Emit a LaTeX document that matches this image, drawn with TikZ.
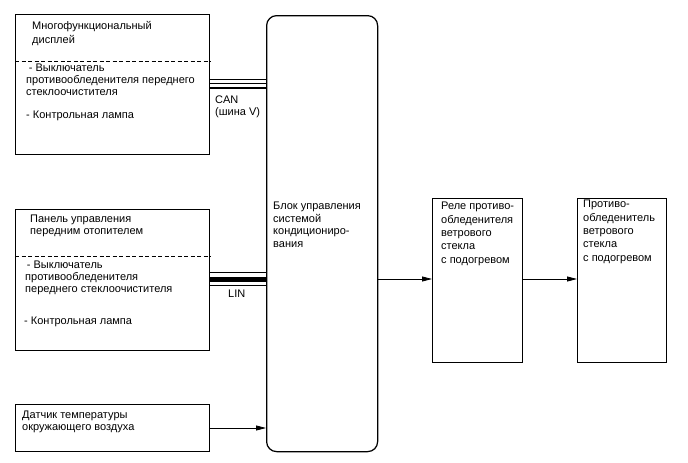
\documentclass[tikz,border=0pt]{standalone}
\usepackage{fontspec}
\setmainfont{Liberation Sans}
\usetikzlibrary{arrows.meta}
\begin{document}
\begin{tikzpicture}[x=1pt,y=-1pt,
  box/.style={draw,line width=1.25pt,anchor=north west,inner sep=0pt,minimum width=#1},
  lbl/.style={anchor=base west,align=left,inner sep=0pt,font=\fontsize{11}{12}\selectfont},
  lbl13/.style={lbl,font=\fontsize{11}{13.3}\selectfont},
  sep/.style={line width=0.7pt,dash pattern=on 4pt off 2.5pt},
  arr/.style={line width=0.8pt,-{Triangle[length=10pt,width=5pt]}}]
\useasboundingbox (0,0) rectangle (688,463);
% boxes
\node[box=194pt,minimum height=140pt] (disp) at (15,14) {};
\node[box=194pt,minimum height=141pt] (panel) at (15,209) {};
\node[box=194pt,minimum height=47pt] (sens) at (15,404) {};
\node[box=111pt,minimum height=436pt,rounded corners=10pt] (main) at (266,15) {};
\node[box=90pt,minimum height=164pt] (relay) at (432,198) {};
\node[box=89pt,minimum height=164pt] (heat) at (577,198) {};
% dashed separators
\draw[sep] (disp.west |- 0,61) coordinate (d1a) -- (disp.east |- 0,61) coordinate (d1b);
\draw[sep] (panel.west |- 0,256) coordinate (d2a) -- (panel.east |- 0,256) coordinate (d2b);
% texts (base anchor = baseline of last line)
\node[lbl] (t1) at (32,43) {Многофункциональный\\[2pt]дисплей};
\node[lbl] (t2) at (26,118) {\hspace{2.6pt}- Выключатель\\противообледенителя переднего\\стеклоочистителя\\[10.5pt]- Контрольная лампа};
\node[lbl] (t3) at (30,234) {Панель управления\\передним отопителем};
\node[lbl] (t4) at (25,324) {\hspace{1.7pt}- Выключатель\\противообледенителя\\переднего стеклоочистителя\\[20pt]\hspace{-1pt}- Контрольная лампа};
\node[lbl] (t5) at (22,430) {Датчик температуры\\окружающего воздуха};
\node[lbl] (can) at (215,115) {CAN\\(шина V)};
\node[lbl] (lin) at (228,297) {LIN};
\node[lbl,font=\fontsize{11}{12.4}\selectfont] (t6) at (273,247) {Блок управления\\системой\\кондициониро-\\вания};
\node[lbl13] (t7) at (441,263) {Реле противо-\\обледенителя\\ветрового\\стекла\\с подогревом};
\node[lbl13] (t8) at (583,261) {Противо-\\обледенитель\\ветрового\\стекла\\с подогревом};
% buses
\draw[line width=1.1pt] (disp.east |- 0,79.5) -- (main.west |- 0,79.5);
\draw[line width=1.1pt] (disp.east |- 0,83.7) -- (main.west |- 0,83.7);
\draw[line width=1.7pt] (disp.east |- 0,88) -- (main.west |- 0,88);
\draw[line width=0.8pt] (panel.east |- 0,272.7) -- (main.west |- 0,272.7);
\draw[line width=5.2pt] (panel.east |- 0,279.6) -- (main.west |- 0,279.6);
\draw[line width=0.8pt] (panel.east |- 0,285.4) -- (main.west |- 0,285.4);
% arrows
\draw[arr] (sens.east |- 0,428) -- (main.west |- 0,428);
\draw[arr] (main.east |- 0,279) -- (relay.west |- 0,279);
\draw[arr] (relay.east |- 0,279) -- (heat.west |- 0,279);
\end{tikzpicture}
\end{document}
